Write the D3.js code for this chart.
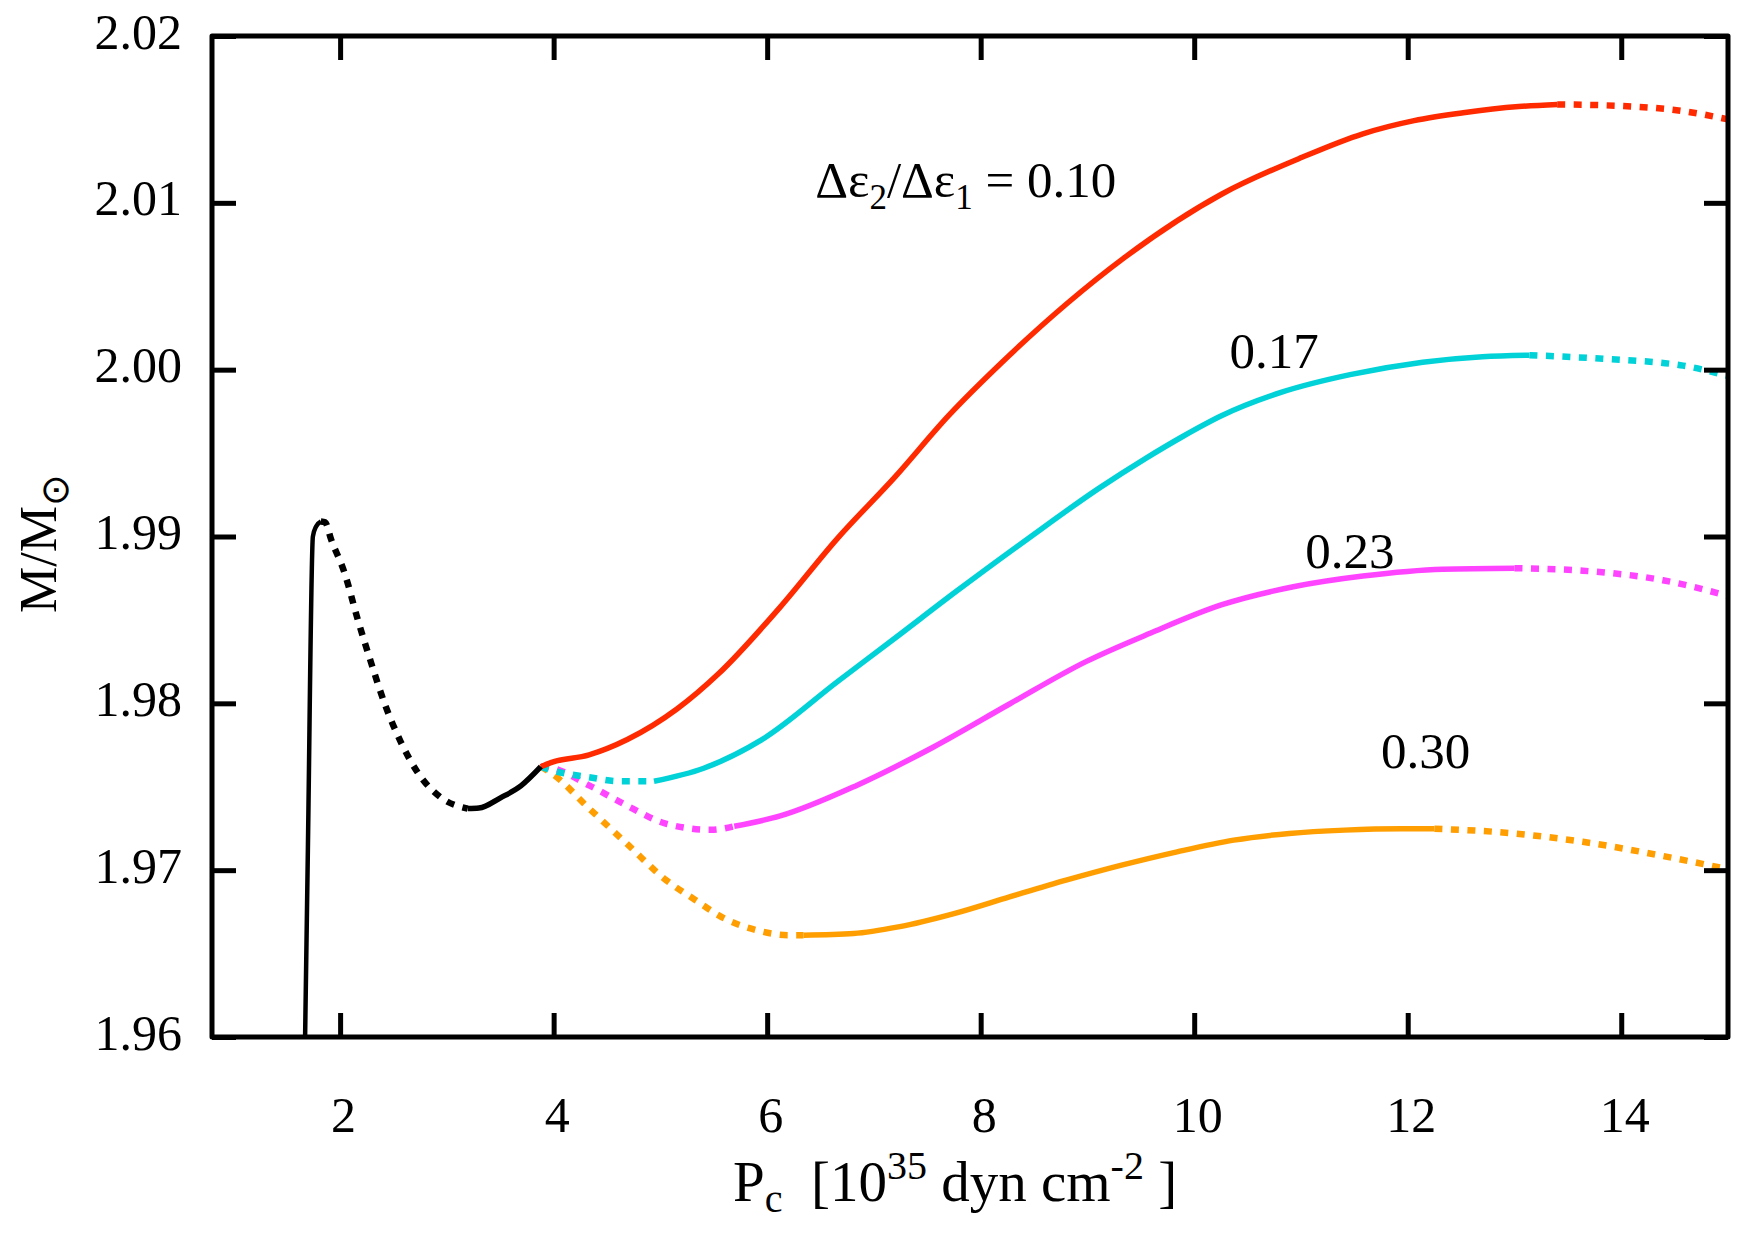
<!DOCTYPE html>
<html>
<head>
<meta charset="utf-8">
<script src="https://cdn.jsdelivr.net/npm/d3@7/dist/d3.min.js"></script>
<style>
  html, body { margin: 0; padding: 0; background: #fff; }
  svg { display: block; }
  text { font-family: "Liberation Serif", "Times New Roman", serif; fill: #000; }
</style>
</head>
<body>
<svg id="chart" width="1763" height="1238"></svg>
<script>
// ---------------- data ----------------
const xTicks = [2, 4, 6, 8, 10, 12, 14];
const yTicks = [1.96, 1.97, 1.98, 1.99, 2.00, 2.01, 2.02];
const yTickLabels = ["1.96", "1.97", "1.98", "1.99", "2.00", "2.01", "2.02"];

// black (common) branch
const blackSolidA = [[1.672, 1.9600], [1.698, 1.9712], [1.745, 1.9900], [1.775, 1.9906], [1.82, 1.9909]];
const blackDotted = [[1.82, 1.9909], [1.86, 1.99085], [1.916, 1.98982], [2.041, 1.98783], [2.165, 1.98503], [2.290, 1.98244],
  [2.414, 1.98004], [2.571, 1.97765], [2.727, 1.97585], [2.945, 1.97435], [3.195, 1.97369]];
const blackSolidB = [[3.195, 1.97369], [3.30, 1.97372], [3.506, 1.97435], [3.693, 1.97505], [3.88, 1.97620]];

// ratio 0.10 (red)
const red010Solid = [[3.88, 1.9762], [3.974, 1.97645], [4.332, 1.97691], [4.69, 1.97783], [5.155, 1.97966], [5.549, 1.9818],
  [6.122, 1.98577], [6.659, 1.98989], [7.196, 1.99356], [7.697, 1.99723], [8.198, 2.00043], [8.806, 2.00395],
  [9.343, 2.0067], [10.26, 2.01053], [11.01, 2.01273], [11.58, 2.01414], [12.06, 2.01493],
  [12.52, 2.0154], [13.04, 2.01577], [13.4, 2.0159]];
const red010DotEnd = [[13.4, 2.0159], [14.02, 2.0158], [14.58, 2.0155], [15.0, 2.0150]];

// ratio 0.17 (cyan)
const cyan017DotStart = [[3.88, 1.9762], [3.974, 1.9760], [4.332, 1.97557], [4.618, 1.97533], [4.94, 1.97533]];
const cyan017Solid = [[4.94, 1.97533], [5.406, 1.97611], [5.943, 1.97779], [6.659, 1.9813], [7.196, 1.9839], [7.769, 1.9867],
  [8.449, 1.9899], [9.11, 1.9929], [9.55, 1.9947], [9.88, 1.99595], [10.26, 1.99725], [10.82, 1.99865], [11.46, 1.9997],
  [12.14, 2.00045], [12.70, 2.00078], [13.14, 2.00087]];
const cyan017DotEnd = [[13.14, 2.00087], [13.83, 2.00065], [14.58, 2.00024], [15.0, 1.99962]];

// ratio 0.23 (magenta)
const mag023DotStart = [[3.88, 1.9762], [3.974, 1.97614], [4.332, 1.97508], [4.69, 1.97386], [5.05, 1.97279], [5.477, 1.97242], [5.692, 1.97263]];
const mag023Solid = [[5.692, 1.97263], [6.122, 1.97325], [6.838, 1.97508], [7.554, 1.97737], [8.27, 1.97996], [8.986, 1.9825],
  [9.587, 1.9842], [10.26, 1.98591], [10.94, 1.987], [11.58, 1.98763], [12.33, 1.98804], [13.0, 1.9881]];
const mag023DotEnd = [[13.0, 1.9881], [13.64, 1.98795], [14.39, 1.98738], [15.0, 1.98644]];

// ratio 0.30 (orange)
const ora030DotStart = [[3.88, 1.9762], [3.974, 1.97584], [4.332, 1.9737], [4.69, 1.97156], [5.05, 1.96942], [5.316, 1.96826],
  [5.6, 1.9671], [5.9, 1.9664], [6.2, 1.9661], [6.34, 1.9661]];
const ora030Solid = [[6.34, 1.9661], [6.81, 1.9662], [7.23, 1.9666], [7.75, 1.9674], [8.27, 1.9684], [8.80, 1.9694],
  [9.32, 1.9703], [9.84, 1.9711], [10.37, 1.9718], [10.89, 1.9722], [11.41, 1.9724], [11.94, 1.97248], [12.25, 1.97248]];
const ora030DotEnd = [[12.25, 1.97248], [12.89, 1.97226], [13.64, 1.9717], [14.39, 1.97085], [15.0, 1.97006]];

const curveLabels = [
  { x: 6.45, y: 2.01035, parts: [["Δε", 0], ["2", 1], ["/Δε", 0], ["1", 1], [" = 0.10", 0]] },
  { x: 10.33, y: 2.0001, parts: [["0.17", 0]] },
  { x: 11.04, y: 1.98814, parts: [["0.23", 0]] },
  { x: 11.75, y: 1.97612, parts: [["0.30", 0]] }
];

// ---------------- layout ----------------
const margin = { left: 212, top: 36, right: 35, bottom: 201 };
const W = 1763, H = 1238;
const iw = W - margin.left - margin.right;   // 1516
const ih = H - margin.top - margin.bottom;    // 1001

const svg = d3.select("#chart");
const g = svg.append("g").attr("transform", `translate(${margin.left},${margin.top})`);

const x = d3.scaleLinear().domain([0.8, 15]).range([0, iw]);
const y = d3.scaleLinear().domain([1.96, 2.02]).range([ih, 0]);

const COL = { black: "#000000", red: "#ff2a00", cyan: "#00d2d8", mag: "#ff44ff", ora: "#ff9e00" };
const LW = 5.5;
const DLW = 6.5;
const DASH = "8,8.5";

svg.append("defs").append("clipPath").attr("id", "clip")
  .append("rect").attr("x", 0).attr("y", 0).attr("width", iw).attr("height", ih);

const line = d3.line().x(d => x(d[0])).y(d => y(d[1])).curve(d3.curveMonotoneX);
const plot = g.append("g").attr("clip-path", "url(#clip)");

function draw(data, color, dashed, width) {
  plot.append("path").datum(data)
    .attr("d", line)
    .attr("fill", "none")
    .attr("stroke", color)
    .attr("stroke-width", width || (dashed ? DLW : LW))
    .attr("stroke-dasharray", dashed ? DASH : null)
    .attr("stroke-linecap", "butt")
    .attr("stroke-linejoin", "round");
}

draw(ora030DotStart, COL.ora, true);
draw(ora030Solid, COL.ora, false);
draw(ora030DotEnd, COL.ora, true);
draw(mag023DotStart, COL.mag, true);
draw(mag023Solid, COL.mag, false);
draw(mag023DotEnd, COL.mag, true);
draw(cyan017DotStart, COL.cyan, true);
draw(cyan017Solid, COL.cyan, false);
draw(cyan017DotEnd, COL.cyan, true);
draw(red010Solid, COL.red, false);
draw(red010DotEnd, COL.red, true);
draw(blackSolidA, COL.black, false, 4.5);
draw(blackDotted, COL.black, true);
draw(blackSolidB, COL.black, false);

// ---------------- axes ----------------
const TL = 24;
const axB = g.append("g").attr("transform", `translate(0,${ih})`)
  .call(d3.axisBottom(x).tickValues(xTicks).tickSizeInner(-TL).tickSizeOuter(0).tickFormat(d3.format("d")));
axB.selectAll("text").attr("y", 0).attr("dy", 0).attr("transform", "translate(3,95)");
const axT = g.append("g")
  .call(d3.axisTop(x).tickValues(xTicks).tickSizeInner(-TL).tickSizeOuter(0).tickFormat(""));
const axL = g.append("g")
  .call(d3.axisLeft(y).tickValues(yTicks).tickSizeInner(-TL).tickSizeOuter(0).tickFormat((d, i) => yTickLabels[i]));
axL.selectAll("text").attr("x", -30).attr("dy", 0).attr("transform", "translate(0,12)");
const axR = g.append("g").attr("transform", `translate(${iw},0)`)
  .call(d3.axisRight(y).tickValues(yTicks).tickSizeInner(-TL).tickSizeOuter(0).tickFormat(""));

[axB, axT, axL, axR].forEach(a => {
  a.select(".domain").remove();
  a.selectAll("line").attr("stroke", "#000").attr("stroke-width", 5);
  a.selectAll("text").attr("font-size", 50).attr("font-family", "Liberation Serif, serif").attr("fill", "#000");
});

g.append("rect").attr("x", 0).attr("y", 0).attr("width", iw).attr("height", ih)
  .attr("fill", "none").attr("stroke", "#000").attr("stroke-width", 5).attr("stroke-linejoin", "round");

// ---------------- curve labels ----------------
curveLabels.forEach(l => {
  const t = g.append("text").attr("x", x(l.x)).attr("y", y(l.y)).attr("font-size", 51).attr("xml:space", "preserve");
  l.parts.forEach((p, i) => {
    const s = t.append("tspan").text(p[0]);
    if (p[1] === 1) s.attr("font-size", 35).attr("dy", 12);
    else if (i > 0) s.attr("dy", -12);
  });
});

// ---------------- axis titles ----------------
const xt = svg.append("text").attr("x", 733).attr("y", 1201).attr("text-anchor", "start")
  .attr("font-size", 57).attr("xml:space", "preserve");
xt.append("tspan").text("P");
xt.append("tspan").text("c").attr("font-size", 40).attr("dy", 11);
xt.append("tspan").text("  [10").attr("dy", -11);
xt.append("tspan").text("35").attr("font-size", 40).attr("dy", -22);
xt.append("tspan").text(" dyn cm").attr("dy", 22);
xt.append("tspan").text("-2").attr("font-size", 40).attr("dy", -22);
xt.append("tspan").text(" ]").attr("dy", 22);

const yt = svg.append("text").attr("transform", "translate(56,613) rotate(-90)").attr("text-anchor", "start").attr("font-size", 52);
yt.append("tspan").text("M/M");
yt.append("tspan").text("⊙").attr("font-size", 38).attr("dy", 12).attr("font-family", "DejaVu Sans, sans-serif");
</script>
</body>
</html>
